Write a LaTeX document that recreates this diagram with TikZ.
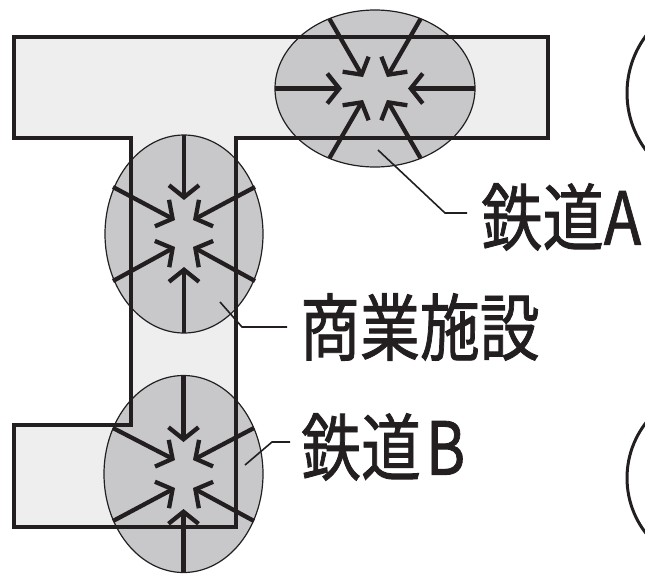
\documentclass[tikz,border=0pt]{standalone}
\usepackage{fontspec}
\newfontfamily\jp[FakeBold=1.2]{Noto Sans CJK JP}
\usetikzlibrary{arrows.meta,shapes.geometric}
\definecolor{ink}{RGB}{35,31,32}
\definecolor{zonegray}{RGB}{200,200,202}
\definecolor{floorgray}{RGB}{238,238,238}
\begin{document}
\begin{tikzpicture}[x=1pt,y=-1pt,
  zone/.style={ellipse, fill=zonegray, draw=ink, line width=1.2pt, inner sep=0pt},
  inarrow/.style={draw=ink, line width=4.3pt, -{Straight Barb[length=12pt,width=30pt]}},
  leader/.style={draw=ink, line width=1.6pt},
  lbl/.style={anchor=west, inner sep=0pt, font=\jp\fontsize{73}{73}\selectfont, text=ink},
  wall/.style={draw=ink, line width=4pt, line join=miter}]
\useasboundingbox (0,0) rectangle (645,574);
\clip (0,0) rectangle (645,574);
% floor
\fill[floorgray] (14,37) -- (548,37) -- (548,138) -- (236,138) -- (236,527) -- (14,527)
  -- (14,425) -- (131,425) -- (131,138) -- (14,138) -- cycle;
% zones
\node[zone, minimum width=200pt, minimum height=157pt] (eA) at (375,88.5) {};
\node[zone, minimum width=158pt, minimum height=198pt] (eS) at (184,234) {};
\node[zone, minimum width=159pt, minimum height=197pt] (eB) at (183.5,474) {};
% walls
\draw[wall] (14,37) -- (548,37) -- (548,138) -- (236,138) -- (236,527) -- (14,527)
  -- (14,425) -- (131,425) -- (131,138) -- (14,138) -- cycle;
% arrows A
\coordinate (a1) at (275,88.5);   \coordinate (a1t) at (342,88.5);
\coordinate (a2) at (475,88.5);   \coordinate (a2t) at (408,88.5);
\coordinate (a3) at (329.5,19);   \coordinate (a3t) at (363,77);
\coordinate (a4) at (420.5,19);   \coordinate (a4t) at (387,77);
\coordinate (a5) at (329.5,158);  \coordinate (a5t) at (363,100);
\coordinate (a6) at (420.5,158);  \coordinate (a6t) at (387,100);
\foreach \i in {1,...,6} \draw[inarrow] (a\i) -- (a\i t);
% arrows S
\coordinate (s1) at (184,135);  \coordinate (s1t) at (184,200);
\coordinate (s2) at (184,333);  \coordinate (s2t) at (184,267);
\coordinate (s3) at (113,187);  \coordinate (s3t) at (175,220);
\coordinate (s4) at (255,187);  \coordinate (s4t) at (193,220);
\coordinate (s5) at (113,281);  \coordinate (s5t) at (175,247);
\coordinate (s6) at (255,281);  \coordinate (s6t) at (193,247);
\foreach \i in {1,...,6} \draw[inarrow] (s\i) -- (s\i t);
% arrows B
\coordinate (b1) at (183.5,375.5);  \coordinate (b1t) at (183.5,442);
\coordinate (b2) at (183.5,572.5);  \coordinate (b2t) at (183.5,509);
\coordinate (b3) at (113,428);      \coordinate (b3t) at (175,460);
\coordinate (b4) at (254,428);      \coordinate (b4t) at (193,460);
\coordinate (b5) at (113,521);      \coordinate (b5t) at (175,488);
\coordinate (b6) at (254,521);      \coordinate (b6t) at (193,488);
\foreach \i in {1,...,6} \draw[inarrow] (b\i) -- (b\i t);
% labels
\node[lbl] (tA) at (481,217) {\scalebox{0.84}[1]{鉄道A}};
\node[lbl] (tS) at (300,327) {\scalebox{0.82}[1]{商業施設}};
\node[lbl] (tB) at (301,447) {\scalebox{0.82}[1]{鉄道\kern6pt B}};
% leaders
\coordinate (lA) at (378,150); \coordinate (lAk) at (445,213);
\draw[leader] (lA) -- (lAk) -- ([xshift=-14pt]lAk -| tA.west);
\coordinate (lS) at (220,302); \coordinate (lSk) at (242,327);
\draw[leader] (lS) -- (lSk) -- ([xshift=-13pt]lSk -| tS.west);
\coordinate (lB) at (245,465); \coordinate (lBk) at (272,442);
\draw[leader] (lB) -- (lBk) -- ([xshift=-11pt]lBk -| tB.west);
% partial circles at right edge
\node[circle, draw=ink, line width=3pt, minimum size=192pt, inner sep=0pt] (c1) at (723,93) {};
\node[circle, draw=ink, line width=3pt, minimum size=180pt, inner sep=0pt] (c2) at (717,478) {};
\end{tikzpicture}
\end{document}
